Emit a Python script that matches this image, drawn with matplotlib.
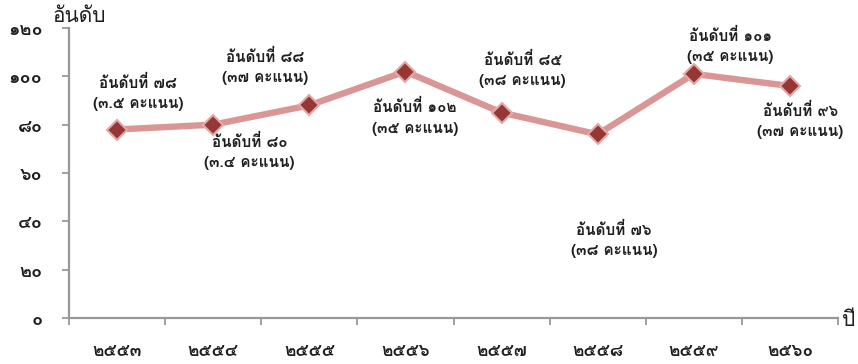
import matplotlib
matplotlib.use('Agg')
import matplotlib.pyplot as plt
from matplotlib.ticker import FixedLocator

years = ['๒๕๕๓', '๒๕๕๔', '๒๕๕๕', '๒๕๕๖', '๒๕๕๗', '๒๕๕๘', '๒๕๕๙', '๒๕๖๐']
ranks = [78, 80, 88, 102, 85, 76, 101, 96]
labels = [
    'อันดับที่ ๗๘\n(๓.๕ คะแนน)',
    'อันดับที่ ๘๐\n(๓.๔ คะแนน)',
    'อันดับที่ ๘๘\n(๓๗ คะแนน)',
    'อันดับที่ ๑๐๒\n(๓๕ คะแนน)',
    'อันดับที่ ๘๕\n(๓๘ คะแนน)',
    'อันดับที่ ๗๖\n(๓๘ คะแนน)',
    'อันดับที่ ๑๐๑\n(๓๕ คะแนน)',
    'อันดับที่ ๙๖\n(๓๗ คะแนน)',
]
yticks = [0, 20, 40, 60, 80, 100, 120]
yticklabels = ['๐', '๒๐', '๔๐', '๖๐', '๘๐', '๑๐๐', '๑๒๐']
ylabel = 'อันดับ'
xlabel = 'ปี'

# label placement (data coords of label centres)
label_pos = [(0.22, 93.0), (1.38, 68.9), (1.54, 103.8), (3.10, 83.0),
             (4.22, 102.8), (5.17, 32.3), (6.38, 112.5), (7.11, 81.7)]

FONT = ['Loma', 'DejaVu Sans']
TXT = '#1f1f1f'
AX = '#989898'

fig = plt.figure(figsize=(8.58, 3.64), dpi=100)
ax = fig.add_axes([69/858, 1-318/364, (838-69)/858, (318-28)/364])

x = list(range(len(years)))
ax.plot(x, ranks, color='#d99694', lw=4.6, solid_capstyle='round', zorder=2)
ax.plot(x, ranks, ls='none', marker='D', markersize=10, markerfacecolor='#953735',
        markeredgecolor='#e6a8a6', markeredgewidth=1.5, zorder=3)

for (lx, ly), t in zip(label_pos, labels):
    ax.text(lx, ly, t, ha='center', va='center', fontsize=11, fontweight='bold',
            family=FONT, color=TXT, linespacing=1.55, zorder=4)

ax.set_xlim(-0.5, len(years) - 0.5)
ax.set_ylim(0, 120)
ax.set_yticks(yticks)
ax.set_yticklabels(yticklabels)
ax.set_xticks(x)
ax.set_xticklabels(years)
ax.xaxis.set_minor_locator(FixedLocator([i - 0.5 for i in range(len(years) + 1)]))
ax.tick_params(axis='x', which='major', length=0, pad=19)
ax.tick_params(axis='x', which='minor', length=5, width=1.3, color=AX)
ax.tick_params(axis='y', which='major', length=5, width=1.3, color=AX, pad=14)

for lab in ax.get_xticklabels():
    lab.set_fontsize(12.5)
for lab in ax.get_yticklabels():
    lab.set_fontsize(13)
for lab in ax.get_xticklabels() + ax.get_yticklabels():
    lab.set_family(FONT)
    lab.set_fontweight('bold')
    lab.set_color(TXT)

for s in ['top', 'right']:
    ax.spines[s].set_visible(False)
for s in ['left', 'bottom']:
    ax.spines[s].set_color(AX)
    ax.spines[s].set_linewidth(1.6)

fig.text(79/858, 1-17/364, ylabel, ha='center', va='center', fontsize=15,
         family=FONT, color=TXT)
fig.text(849/858, 1-321/364, xlabel, ha='center', va='center', fontsize=15,
         family=FONT, color=TXT)

fig.savefig('out.png', dpi=100)
